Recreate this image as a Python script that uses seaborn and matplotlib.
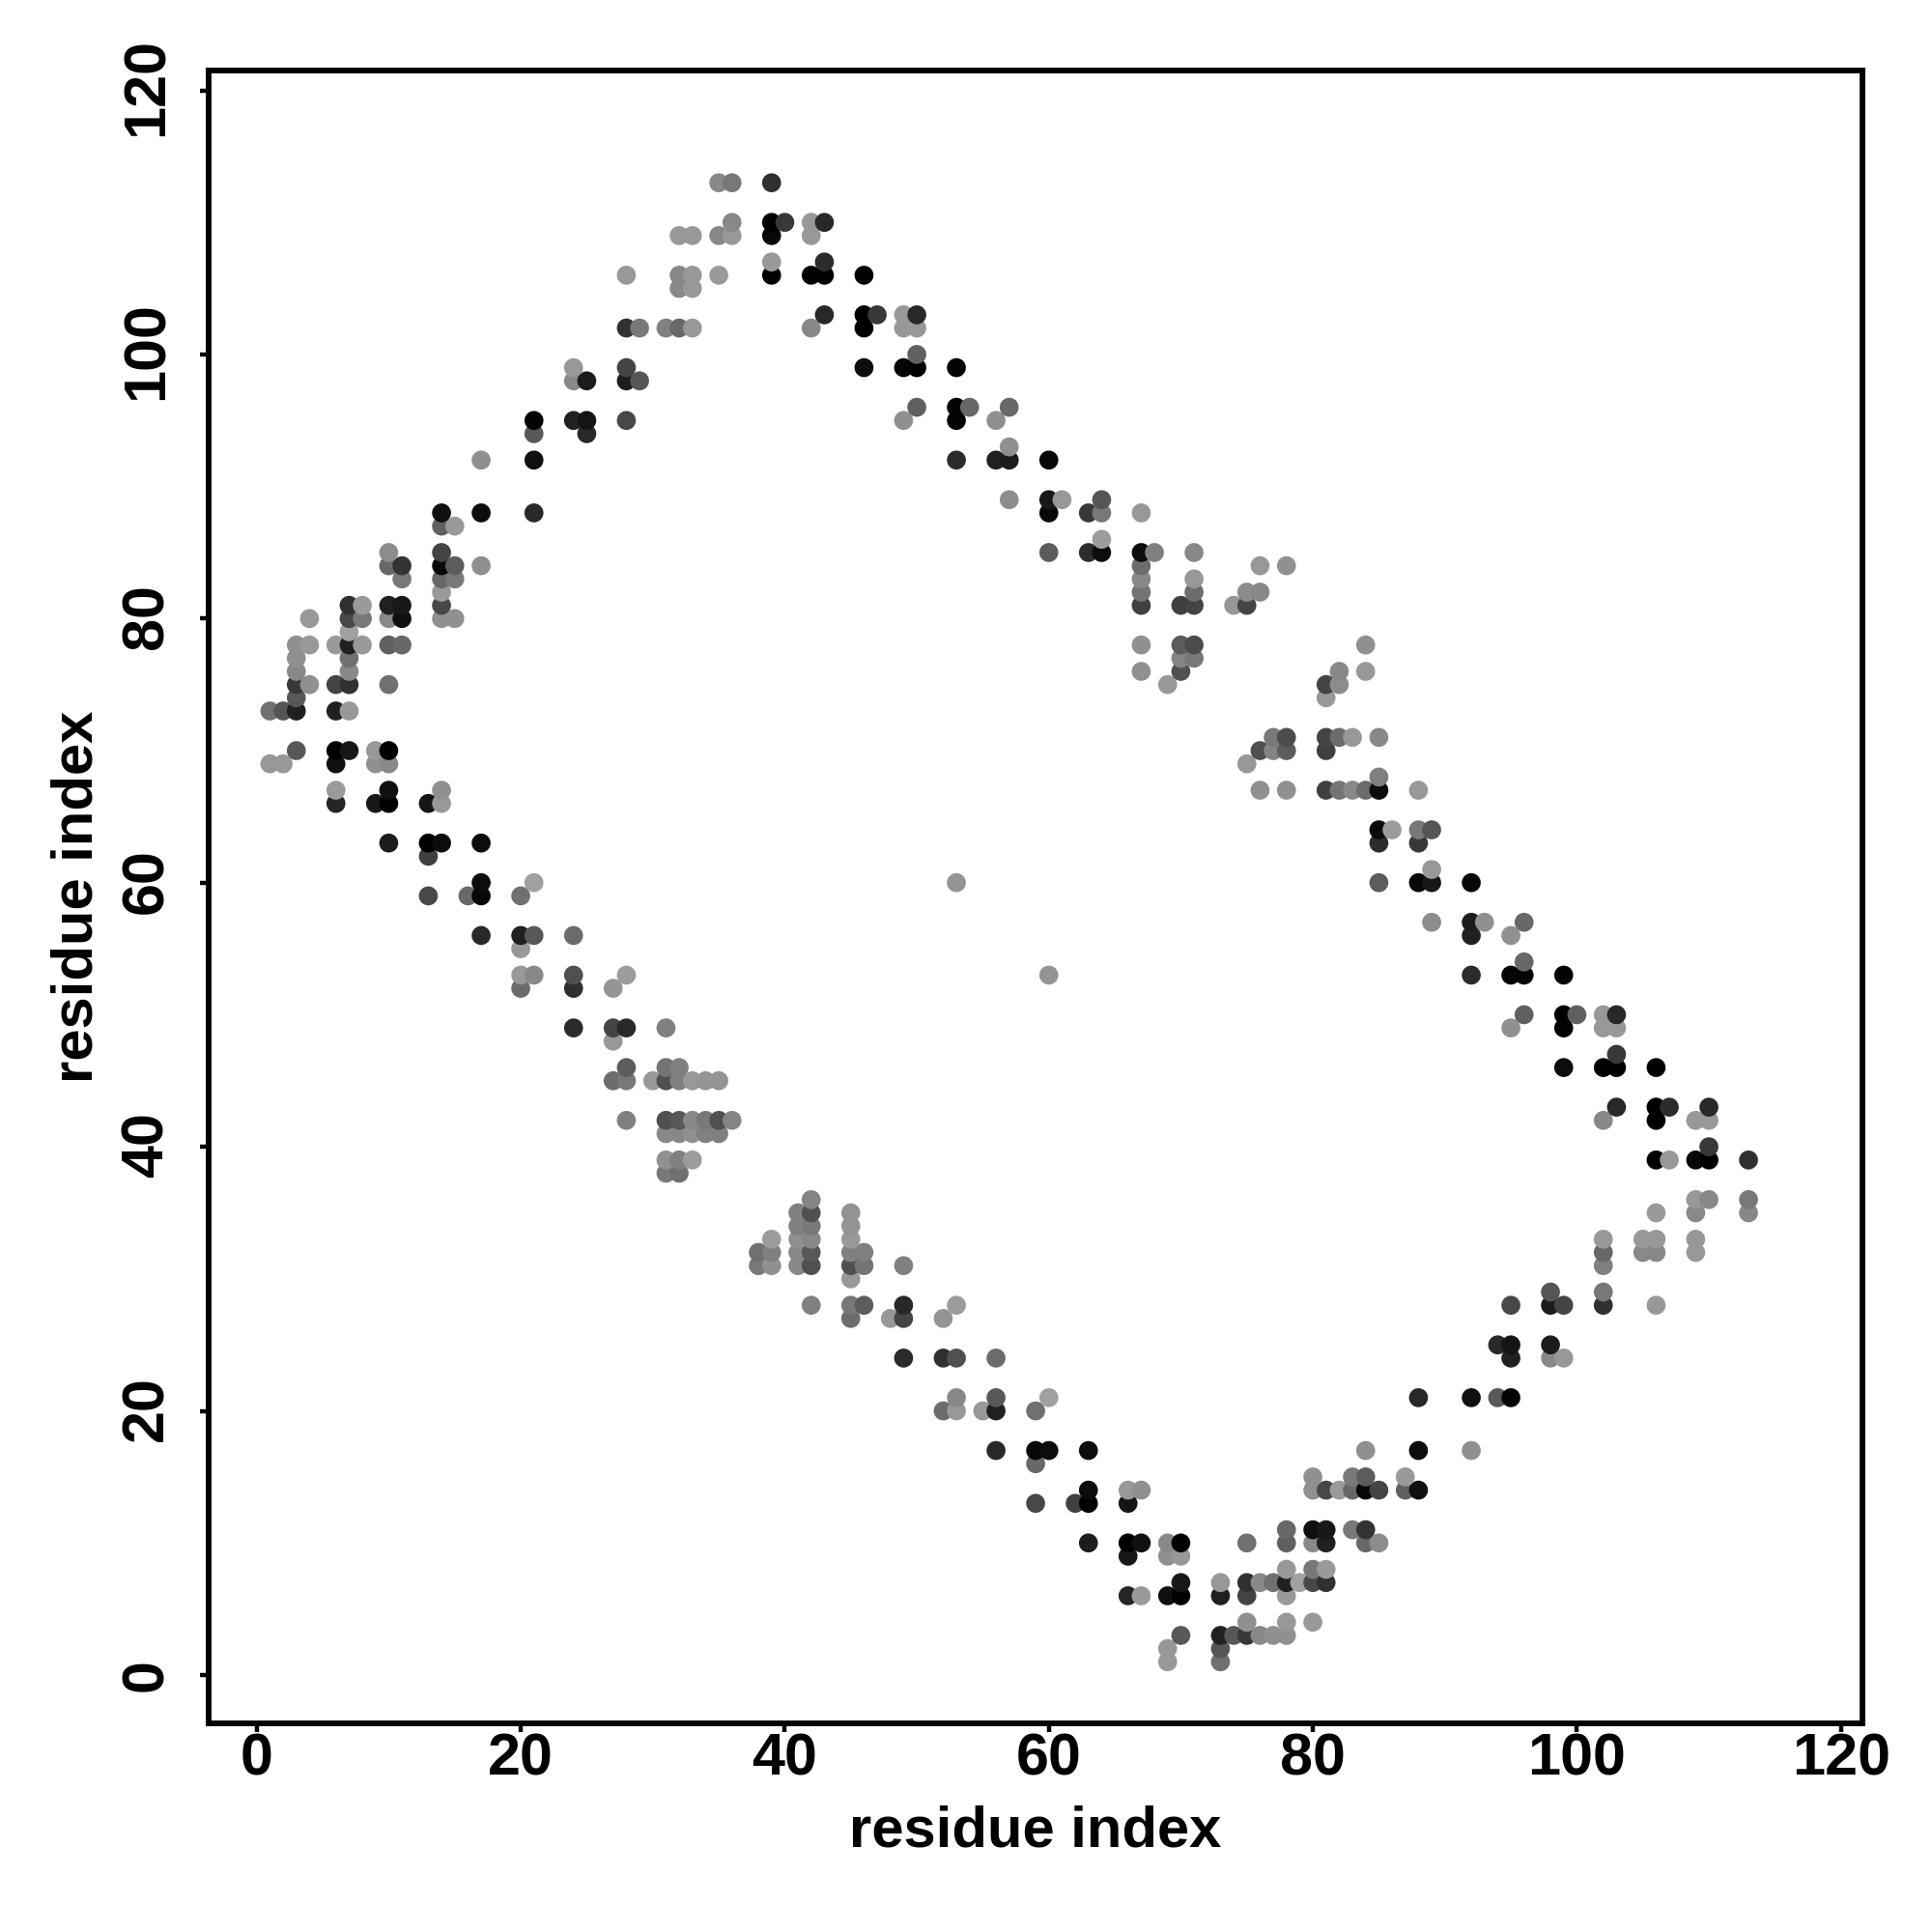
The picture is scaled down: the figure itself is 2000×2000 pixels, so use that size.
import matplotlib
matplotlib.use("Agg")
import matplotlib.pyplot as plt
from matplotlib.transforms import ScaledTranslation
import seaborn as sns
import pandas as pd

# Contact map: symmetric, so only residue pairs i < j are listed.
residue_i = [1, 2, 3, 4, 6, 7, 8, 9, 10, 11, 13, 14, 15, 16, 17, 20, 21, 24, 25, 27, 28, 29, 30, 31, 32, 33, 34, 35, 36,
             39, 40, 42, 43, 46, 47, 49, 50, 53, 54, 56, 57, 60, 61, 63, 64, 67, 68, 69, 70, 71, 74, 75, 76, 78]
partners_j = [
    [73, 69], [73, 69], [78, 77, 76, 75, 74, 73, 70], [80, 78, 75],
    [78, 75, 73, 70, 69, 67, 66], [81, 80, 79, 78, 77, 76, 75, 73, 70], [81, 80, 78], [70, 69, 66],
    [85, 84, 81, 80, 78, 75, 70, 69, 67, 66, 63], [84, 83, 81, 80, 78], [66, 63, 62, 59],
    [88, 87, 85, 84, 83, 82, 81, 80, 67, 66, 63], [87, 84, 83, 80], [59],
    [92, 88, 84, 63, 60, 59, 56], [59, 56, 55, 53, 52], [95, 94, 92, 88, 60, 56, 53],
    [99, 98, 95, 56, 53, 52, 49], [98, 95, 94], [52, 49, 48, 45],
    [106, 102, 99, 98, 95, 53, 49, 46, 45, 42], [102, 98], [45],
    [102, 49, 46, 45, 42, 41, 39, 38], [109, 106, 105, 102, 46, 45, 42, 41, 39, 38],
    [109, 106, 105, 102, 45, 42, 41, 39], [45, 42, 41], [113, 109, 106, 45, 42, 41], [113, 110, 109, 42],
    [113, 110, 109, 107, 106], [110], [110, 109, 106, 102], [110, 107, 106, 103], [106, 103, 102, 99], [103],
    [103, 102, 99, 95], [103, 102, 100, 99, 96], [99, 96, 95, 92, 60], [96], [95, 92], [96, 93, 92, 89],
    [92, 89, 88, 85], [89], [88, 85], [89, 88, 86, 85], [88, 85, 84, 83, 82, 81, 78, 76], [85], [75],
    [81, 78, 77, 76], [85, 83, 82, 81, 78, 77], [81], [82, 81], [84, 82], [84],
]
# Grey level of each contact, 0 = black, 255 = white.
grey_levels = [
    [0x70, 0x98], [0x55, 0x98], [0x90, 0x90, 0x88, 0x38, 0x58, 0x20, 0x58], [0x98, 0x98, 0x90],
    [0x9a, 0x44, 0x20, 0x00, 0x10, 0x9a, 0x25], [0x30, 0x48, 0xa0, 0x20, 0x70, 0x88, 0x30, 0x98, 0x18],
    [0x9a, 0x78, 0x98], [0x98, 0x90, 0x18],
    [0x8c, 0x68, 0x20, 0x88, 0x60, 0x70, 0x00, 0x88, 0x10, 0x00, 0x1c], [0x33, 0x78, 0x18, 0x10, 0x68],
    [0x15, 0x00, 0x40, 0x48],
    [0x10, 0x60, 0x44, 0x08, 0x68, 0x9a, 0x48, 0x90, 0x90, 0x98, 0x0c], [0x99, 0x5c, 0x78, 0x90], [0x68],
    [0x90, 0x0c, 0x90, 0x0c, 0x0c, 0x08, 0x28], [0x70, 0x20, 0x98, 0x98, 0x6c],
    [0x04, 0x58, 0x10, 0x28, 0xa0, 0x58, 0x88],
    [0x98, 0x88, 0x20, 0x6c, 0x50, 0x30, 0x2a], [0x1c, 0x14, 0x28], [0x94, 0x44, 0x98, 0x6c],
    [0x98, 0x30, 0x44, 0x1c, 0x48, 0x9c, 0x28, 0x5c, 0x78, 0x80], [0x78, 0x55], [0x98],
    [0x80, 0x80, 0x74, 0x50, 0x50, 0x88, 0x90, 0x78],
    [0x98, 0x88, 0x88, 0x68, 0x80, 0x80, 0x58, 0x88, 0x80, 0x70],
    [0x98, 0x98, 0x98, 0x98, 0x98, 0x88, 0x90, 0x9c], [0x94, 0x78, 0x80],
    [0x88, 0x88, 0x9a, 0x94, 0x50, 0x80], [0x78, 0x88, 0x98, 0x84],
    [0x30, 0x00, 0x08, 0x98, 0x00], [0x38], [0x98, 0x98, 0x00, 0x88], [0x28, 0x2c, 0x00, 0x28],
    [0x00, 0x00, 0x00, 0x0c], [0x38],
    [0x98, 0x98, 0x04, 0x90], [0x28, 0x98, 0x60, 0x00, 0x60], [0x04, 0x04, 0x04, 0x2c, 0x94], [0x68],
    [0x90, 0x20], [0x68, 0x90, 0x1c, 0x8c],
    [0x08, 0x18, 0x08, 0x5c], [0x98], [0x38, 0x2c], [0x55, 0x78, 0x9c, 0x0c],
    [0x98, 0x0c, 0x6c, 0x88, 0x74, 0x40, 0x90, 0x90], [0x80], [0x98],
    [0x40, 0x5c, 0x84, 0x50], [0x88, 0x98, 0x6c, 0x44, 0x4c, 0x78], [0x98], [0x8c, 0x44], [0x98, 0x88], [0x90],
]
tick_values = [0, 20, 40, 60, 80, 100, 120]
axis_label = "residue index"

rows = []
for i, js, gs in zip(residue_i, partners_j, grey_levels, strict=True):
    for j, g in zip(js, gs, strict=True):
        shade = f"#{g:02x}{g:02x}{g:02x}"
        rows.append((i, j, shade))
        rows.append((j, i, shade))
df = pd.DataFrame(rows, columns=["x", "y", "shade"]).sort_values(["y", "x"])

sns.set_theme(style="white")
plt.rcParams["font.family"] = ["Liberation Sans", "DejaVu Sans"]
plt.rcParams["font.weight"] = "bold"

W = 2000
fig = plt.figure(figsize=(20, 20), dpi=100, facecolor="white")
ax = fig.add_axes([216 / W, 1 - 1784 / W, (1928 - 216) / W, (1784 - 73) / W])

palette = {s: s for s in df["shade"].unique()}
sns.scatterplot(data=df, x="x", y="y", hue="shade", palette=palette, s=200, linewidth=0,
                edgecolor="none", legend=False, ax=ax, zorder=3)

ax.set_xlim(-3.64, 121.63)
ax.set_ylim(-3.66, 121.5)
ax.set_xticks(tick_values)
ax.set_yticks(tick_values)
ax.grid(False)
for sp in ax.spines.values():
    sp.set_linewidth(4.2)
    sp.set_color("black")
ax.tick_params(axis="both", length=6.5, width=3.2, color="black", labelsize=44,
               labelcolor="black", bottom=True, left=True)
ax.tick_params(axis="x", pad=0)
ax.tick_params(axis="y", pad=18.4)
fig.canvas.draw()
for lab, val in zip(ax.get_yticklabels(), tick_values):
    lab.set_rotation(90)
    lab.set_va("center")
    up_px = 2 * (len(str(val)) - 1)
    lab.set_transform(lab.get_transform() + ScaledTranslation(0, up_px / 100, fig.dpi_scale_trans))
for lab in ax.get_xticklabels() + ax.get_yticklabels():
    lab.set_fontweight("bold")
ax.set_xlabel(axis_label, fontsize=43, fontweight="bold", color="black", labelpad=13)
ax.set_ylabel(axis_label, fontsize=43, fontweight="bold", color="black", labelpad=12)

fig.savefig("out.png", dpi=100, facecolor="white")
